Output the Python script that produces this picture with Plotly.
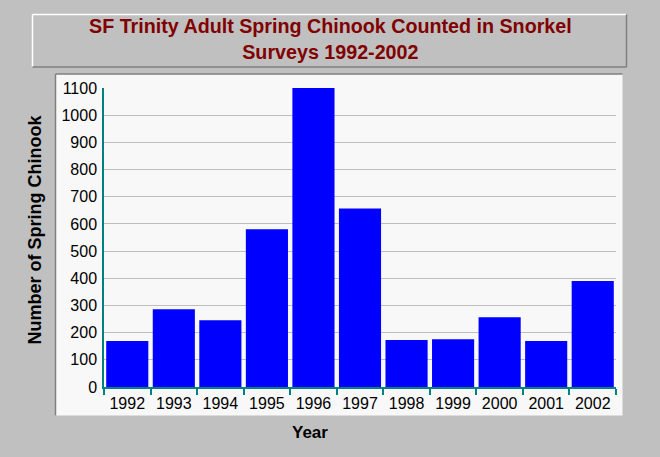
import plotly.graph_objects as go

years = [1992, 1993, 1994, 1995, 1996, 1997, 1998, 1999, 2000, 2001, 2002]
year_labels = [str(y) for y in years]
counts = [169, 286, 246, 580, 1100, 657, 173, 176, 257, 169, 390]
y_ticks = list(range(0, 1101, 100))

W, H = 660, 457
L, R, T, B = 104, 44, 88, 70
PW, PH = W - L - R, H - T - B


def px_x(px):
    return (px - L) / PW


def px_y(py):
    return (H - B - py) / PH


FONT = "Liberation Sans, Arial, sans-serif"
TEAL = "#008080"

fig = go.Figure()
fig.add_trace(go.Bar(x=years, y=counts, width=0.905, marker=dict(color="#0000FF", line=dict(width=0)),
                     hoverinfo="x+y"))

boundaries = [y - 0.5 for y in years] + [years[-1] + 0.5]

shapes = []
# title box (bevel)
shapes.append(dict(type="rect", xref="paper", yref="paper", x0=px_x(32.5), x1=px_x(626), y0=px_y(67), y1=px_y(14.5),
                   fillcolor="#C0C0C0", line=dict(width=0), layer="below"))
shapes.append(dict(type="line", xref="paper", yref="paper", x0=px_x(32.5), x1=px_x(626), y0=px_y(14.5), y1=px_y(14.5),
                   line=dict(color="#FFFFFF", width=1.5), layer="below"))
shapes.append(dict(type="line", xref="paper", yref="paper", x0=px_x(32.5), x1=px_x(32.5), y0=px_y(14.5), y1=px_y(67),
                   line=dict(color="#FFFFFF", width=1.5), layer="below"))
shapes.append(dict(type="line", xref="paper", yref="paper", x0=px_x(32.5), x1=px_x(626.5), y0=px_y(67), y1=px_y(67),
                   line=dict(color="#808080", width=1.5), layer="below"))
shapes.append(dict(type="line", xref="paper", yref="paper", x0=px_x(626.5), x1=px_x(626.5), y0=px_y(14.5), y1=px_y(67),
                   line=dict(color="#808080", width=1.5), layer="below"))
# chart panel
shapes.append(dict(type="rect", xref="paper", yref="paper", x0=px_x(55.5), x1=px_x(622.5), y0=px_y(415.5), y1=px_y(74),
                   fillcolor="#F8F8F8", line=dict(width=0), layer="below"))
shapes.append(dict(type="line", xref="paper", yref="paper", x0=px_x(55.5), x1=px_x(622.5), y0=px_y(74), y1=px_y(74),
                   line=dict(color="#808080", width=1.5), layer="below"))
shapes.append(dict(type="line", xref="paper", yref="paper", x0=px_x(55.5), x1=px_x(55.5), y0=px_y(74), y1=px_y(415.5),
                   line=dict(color="#808080", width=1.5), layer="below"))

fig.update_layout(
    width=W, height=H,
    margin=dict(l=L, r=R, t=T, b=B),
    paper_bgcolor="#C0C0C0",
    plot_bgcolor="#F8F8F8",
    showlegend=False,
    shapes=shapes,
    font=dict(family=FONT, color="#000000", size=16),
    xaxis=dict(
        range=[years[0] - 0.5, years[-1] + 0.5],
        tickmode="array", tickvals=years, ticktext=year_labels,
        ticks="", showgrid=False, zeroline=False,
        showline=True, linecolor=TEAL, linewidth=1.5,
        tickfont=dict(family=FONT, size=16, color="#000000"),
        minor=dict(tickmode="array", tickvals=boundaries, ticks="outside", ticklen=6,
                   tickcolor=TEAL, tickwidth=1.5, showgrid=False),
        ticklabelstandoff=1,
        fixedrange=True,
    ),
    xaxis2=dict(
        overlaying="x", anchor="y", side="bottom",
        range=[years[0] - 0.5, years[-1] + 0.5],
        tickmode="array", tickvals=boundaries,
        ticks="inside", ticklen=6, tickcolor=TEAL, tickwidth=1.5,
        showticklabels=False, showgrid=False, zeroline=False, showline=False,
    ),
    yaxis=dict(
        range=[0, 1100], tickmode="array", tickvals=y_ticks,
        showgrid=True, gridcolor="#BEBEBE", gridwidth=1.2,
        zeroline=False, showline=True, linecolor=TEAL, linewidth=1.5,
        ticks="", ticklabelstandoff=2,
        tickfont=dict(family=FONT, size=16, color="#000000"),
        fixedrange=True,
    ),
    annotations=[
        dict(text="<b>SF Trinity Adult Spring Chinook Counted in Snorkel<br>Surveys 1992-2002</b>",
             xref="paper", yref="paper", x=px_x(330), y=px_y(39), xanchor="center", yanchor="middle",
             showarrow=False, font=dict(family=FONT, size=19.7, color="#800000")),
        dict(text="<b>Number of Spring Chinook</b>", textangle=-90,
             xref="paper", yref="paper", x=px_x(34), y=px_y(229.5), xanchor="center", yanchor="middle",
             showarrow=False, font=dict(family=FONT, size=18, color="#000000")),
        dict(text="<b>Year</b>",
             xref="paper", yref="paper", x=px_x(310), y=px_y(432), xanchor="center", yanchor="middle",
             showarrow=False, font=dict(family=FONT, size=17, color="#000000")),
    ],
)

fig.write_html("out.html", config={"displayModeBar": False},
               post_script="document.body.style.margin='0';document.body.style.padding='0';")
